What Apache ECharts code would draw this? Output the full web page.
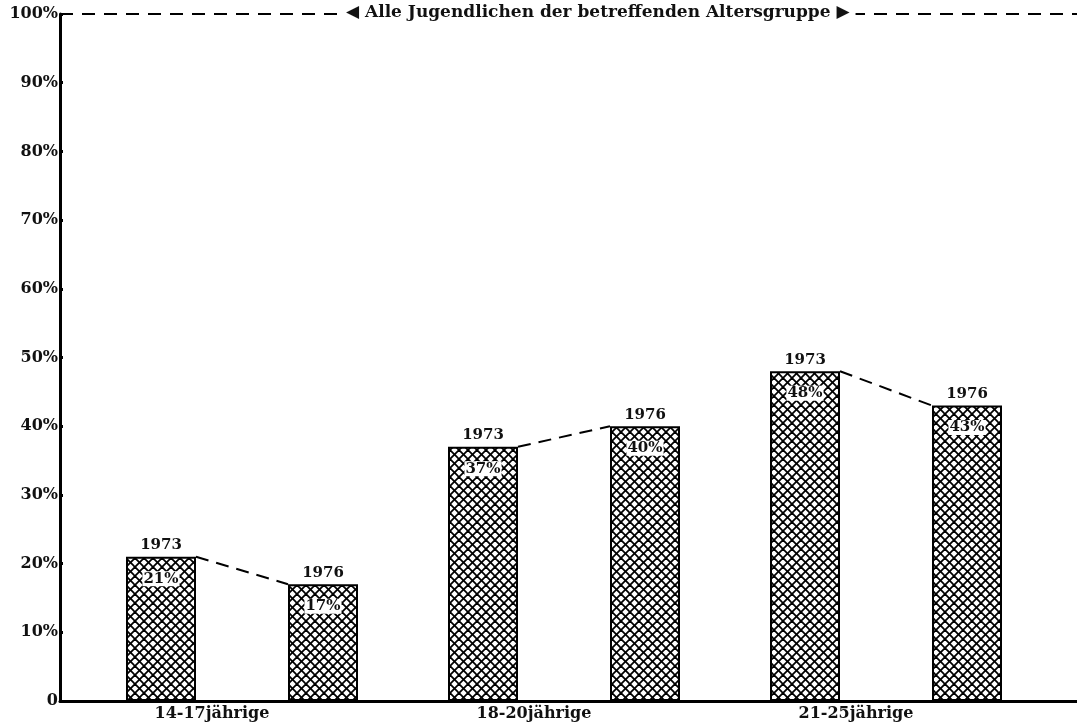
<!DOCTYPE html>
<html>
<head>
<meta charset="utf-8">
<script src="https://cdn.jsdelivr.net/npm/echarts@6/dist/echarts.min.js"></script>
<style>
  html, body { margin: 0; padding: 0; background: #fff; }
  #myChart { width: 1077px; height: 728px; }
</style>
</head>
<body>
<div id="myChart"></div>
<script>
// Daten
const categories = ['14-17jährige', '18-20jährige', '21-25jährige'];
const years = ['1973', '1976'];
const values1973 = [21, 37, 48];
const values1976 = [17, 40, 43];
const yTicks = [0, 10, 20, 30, 40, 50, 60, 70, 80, 90, 100];
const totalShare = 100;
const totalLabel = 'Alle Jugendlichen der betreffenden Altersgruppe';

const font = 'DejaVu Serif';
const barWidth = 70;
const barGapPx = 92;

// Schraffur (Kreuzmuster)
function hatch () {
  let s = 9;
  let c = document.createElement('canvas');
  c.width = s; c.height = s;
  let ctx = c.getContext('2d');
  ctx.fillStyle = '#fff';
  ctx.fillRect(0, 0, s, s);
  ctx.strokeStyle = '#000';
  ctx.lineWidth = 1.8;
  [-s, 0, s].forEach(function (k) {
    ctx.beginPath(); ctx.moveTo(0, k); ctx.lineTo(s, s + k); ctx.stroke();
  });
  [0, s, 2 * s].forEach(function (k) {
    ctx.beginPath(); ctx.moveTo(0, k); ctx.lineTo(s, k - s); ctx.stroke();
  });
  return c;
}
const pattern = { image: hatch(), repeat: 'repeat' };

let myChart = echarts.init(document.getElementById('myChart'));

myChart.setOption({
  animation: false,
  backgroundColor: '#fff',
  title: {
    text: '◀ ' + totalLabel + ' ▶',
    left: 340,
    top: 4,
    padding: [0, 6],
    backgroundColor: '#fff',
    textStyle: { fontFamily: font, fontWeight: 'bold', fontSize: 17, color: '#111' }
  },
  grid: [
    { left: 60, right: 0, top: 14, bottom: 27 },
    { left: 81, right: 30, top: 14, bottom: 27 }
  ],
  xAxis: [
    {
      gridIndex: 0, type: 'value', min: 0, max: 1,
      axisLine: { show: true, onZero: false, lineStyle: { color: '#000', width: 3 } },
      axisTick: { show: false }, axisLabel: { show: false }, splitLine: { show: false }
    },
    {
      gridIndex: 1, type: 'category', data: categories,
      axisLine: { show: false }, axisTick: { show: false }, splitLine: { show: false },
      axisLabel: {
        margin: 5, padding: [0, 60, 0, 0],
        fontFamily: font, fontWeight: 'bold', fontSize: 16, color: '#111'
      }
    }
  ],
  yAxis: [
    {
      gridIndex: 0, type: 'value', min: 0, max: 100, interval: 10,
      axisLine: { show: true, lineStyle: { color: '#000', width: 3 } },
      axisTick: { show: true, inside: true, length: 3, lineStyle: { color: '#000', width: 3 } },
      splitLine: { show: false },
      axisLabel: {
        margin: 2, fontFamily: font, fontWeight: 'bold', fontSize: 16, color: '#111',
        customValues: yTicks,
        formatter: function (v) { return v === 0 ? '0' : v + '%'; }
      }
    },
    { gridIndex: 1, type: 'value', min: 0, max: 100, show: false }
  ],
  series: [
    {
      // 100%-Linie
      type: 'line', xAxisIndex: 0, yAxisIndex: 0,
      data: [[0, totalShare], [1, totalShare]],
      symbol: 'none', silent: true,
      lineStyle: { color: '#000', width: 2, type: [13, 9] }
    },
    {
      name: years[0], type: 'bar', xAxisIndex: 1, yAxisIndex: 1,
      data: values1973, barWidth: barWidth, barGap: (barGapPx / barWidth * 100) + '%',
      itemStyle: { color: pattern, borderColor: '#000', borderWidth: 2 },
      label: {
        show: true, position: 'top', distance: 4, formatter: years[0],
        fontFamily: font, fontWeight: 'bold', fontSize: 15, color: '#111'
      }
    },
    {
      name: years[1], type: 'bar', xAxisIndex: 1, yAxisIndex: 1,
      data: values1976, barWidth: barWidth, barGap: (barGapPx / barWidth * 100) + '%',
      itemStyle: { color: pattern, borderColor: '#000', borderWidth: 2 },
      label: {
        show: true, position: 'top', distance: 4, formatter: years[1],
        fontFamily: font, fontWeight: 'bold', fontSize: 15, color: '#111'
      }
    },
    {
      // Verbindungslinien + Prozentangaben
      type: 'custom', xAxisIndex: 1, yAxisIndex: 1, silent: true, z: 5,
      data: categories.map(function (c, i) { return [i, values1973[i], values1976[i]]; }),
      encode: { x: 0, y: [1, 2] },
      renderItem: function (params, api) {
        let a = api.coord([api.value(0), api.value(1)]);
        let b = api.coord([api.value(0), api.value(2)]);
        let half = barGapPx / 2;
        let off = half + barWidth / 2;
        let txt = function (x, y, v) {
          return {
            type: 'text', x: x, y: y,
            style: {
              text: v + '%', align: 'center', verticalAlign: 'middle',
              font: 'bold 15px "DejaVu Serif"', fill: '#111',
              backgroundColor: '#fff', padding: [0, 1]
            }
          };
        };
        return {
          type: 'group',
          children: [
            {
              type: 'line',
              shape: { x1: a[0] - half, y1: a[1], x2: b[0] + half, y2: b[1] },
              style: { stroke: '#000', lineWidth: 2, lineDash: [13, 8] }
            },
            txt(a[0] - off, a[1] + 22, api.value(1)),
            txt(b[0] + off, b[1] + 22, api.value(2))
          ]
        };
      }
    }
  ]
});
</script>
</body>
</html>
